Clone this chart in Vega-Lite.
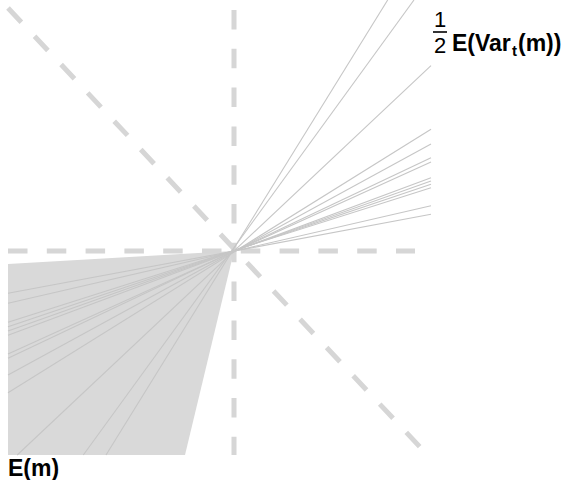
{
  "$schema": "https://vega.github.io/schema/vega-lite/v6.json",
  "width": 571,
  "height": 480,
  "padding": 0,
  "autosize": {"type": "none"},
  "background": "white",
  "config": {"view": {"stroke": null}},
  "datasets": {
    "shade": [
      {"x": -2.26, "y": -0.13, "y2": -2.04},
      {"x": -0.49, "y": -0.028, "y2": -2.04},
      {"x": 0, "y": 0, "y2": 0}
    ],
    "guides": [
      {"name": "vertical", "x": 0, "y": 2.41, "x2": 0, "y2": -2.04},
      {"name": "horizontal", "x": -2.26, "y": 0, "x2": 1.81, "y2": 0},
      {"name": "diagonal", "x": -2.26, "y": 2.43, "x2": 1.86, "y2": -1.96}
    ],
    "rays": [
      {"id": 1, "x": -2.26, "y": -0.423, "x2": 1.97, "y2": 0.367},
      {"id": 2, "x": -2.26, "y": -0.523, "x2": 1.97, "y2": 0.453},
      {"id": 3, "x": -2.26, "y": -0.713, "x2": 1.97, "y2": 0.633},
      {"id": 4, "x": -2.26, "y": -0.757, "x2": 1.97, "y2": 0.667},
      {"id": 5, "x": -2.26, "y": -0.8, "x2": 1.97, "y2": 0.7},
      {"id": 6, "x": -2.26, "y": -0.843, "x2": 1.97, "y2": 0.733},
      {"id": 7, "x": -2.26, "y": -1.03, "x2": 1.97, "y2": 0.89},
      {"id": 8, "x": -2.26, "y": -1.073, "x2": 1.97, "y2": 0.933},
      {"id": 9, "x": -2.26, "y": -1.24, "x2": 1.97, "y2": 1.07},
      {"id": 10, "x": -2.26, "y": -1.417, "x2": 1.97, "y2": 1.217},
      {"id": 11, "x": -2.168, "y": -2.04, "x2": 1.97, "y2": 1.854},
      {"id": 12, "x": -1.507, "y": -2.04, "x2": 1.8, "y2": 2.51},
      {"id": 13, "x": -1.28, "y": -2.04, "x2": 1.537, "y2": 2.51}
    ]
  },
  "layer": [
    {
      "data": {"name": "shade"},
      "mark": {"type": "area", "color": "#d9d9d9", "opacity": 1},
      "encoding": {
        "x": {"field": "x", "type": "quantitative", "scale": {"domain": [-2.34, 3.37]}, "axis": null},
        "y": {"field": "y", "type": "quantitative", "scale": {"domain": [-2.29, 2.51]}, "axis": null},
        "y2": {"field": "y2"}
      }
    },
    {
      "data": {"name": "guides"},
      "mark": {"type": "rule", "color": "#d6d6d6", "strokeWidth": 5, "strokeDash": [19.5, 19.3], "strokeCap": "butt"},
      "encoding": {
        "x": {"field": "x", "type": "quantitative", "scale": {"domain": [-2.34, 3.37]}, "axis": null},
        "y": {"field": "y", "type": "quantitative", "scale": {"domain": [-2.29, 2.51]}, "axis": null},
        "x2": {"field": "x2"},
        "y2": {"field": "y2"}
      }
    },
    {
      "data": {"name": "rays"},
      "mark": {"type": "rule", "color": "#c6c6c6", "strokeWidth": 1.1},
      "encoding": {
        "x": {"field": "x", "type": "quantitative", "scale": {"domain": [-2.34, 3.37]}, "axis": null},
        "y": {"field": "y", "type": "quantitative", "scale": {"domain": [-2.29, 2.51]}, "axis": null},
        "x2": {"field": "x2"},
        "y2": {"field": "y2"}
      }
    },
    {
      "data": {"values": [{"x": 1.99, "x2": 2.13, "y": 2.19}]},
      "mark": {"type": "rule", "color": "black", "strokeWidth": 1.6},
      "encoding": {
        "x": {"field": "x", "type": "quantitative", "scale": {"domain": [-2.34, 3.37]}, "axis": null},
        "x2": {"field": "x2"},
        "y": {"field": "y", "type": "quantitative", "scale": {"domain": [-2.29, 2.51]}, "axis": null}
      }
    },
    {
      "data": {"values": [{"t": "1", "x": 2.06, "y": 2.24}, {"t": "2", "x": 2.06, "y": 1.98}]},
      "mark": {"type": "text", "font": "Liberation Sans", "fontSize": 22, "color": "black", "align": "center", "baseline": "alphabetic"},
      "encoding": {
        "x": {"field": "x", "type": "quantitative", "scale": {"domain": [-2.34, 3.37]}, "axis": null},
        "y": {"field": "y", "type": "quantitative", "scale": {"domain": [-2.29, 2.51]}, "axis": null},
        "text": {"field": "t"}
      }
    },
    {
      "data": {"values": [{"t": "E(Var", "x": 2.18, "y": 2.0}, {"t": "(m))", "x": 2.84, "y": 2.0}, {"t": "E(m)", "x": -2.26, "y": -2.25}]},
      "mark": {"type": "text", "font": "Liberation Sans", "fontWeight": "bold", "fontSize": 23, "color": "black", "align": "left", "baseline": "alphabetic"},
      "encoding": {
        "x": {"field": "x", "type": "quantitative", "scale": {"domain": [-2.34, 3.37]}, "axis": null},
        "y": {"field": "y", "type": "quantitative", "scale": {"domain": [-2.29, 2.51]}, "axis": null},
        "text": {"field": "t"}
      }
    },
    {
      "data": {"values": [{"t": "t", "x": 2.78, "y": 1.95}]},
      "mark": {"type": "text", "font": "Liberation Sans", "fontWeight": "bold", "fontSize": 15, "color": "black", "align": "left", "baseline": "alphabetic"},
      "encoding": {
        "x": {"field": "x", "type": "quantitative", "scale": {"domain": [-2.34, 3.37]}, "axis": null},
        "y": {"field": "y", "type": "quantitative", "scale": {"domain": [-2.29, 2.51]}, "axis": null},
        "text": {"field": "t"}
      }
    }
  ]
}
